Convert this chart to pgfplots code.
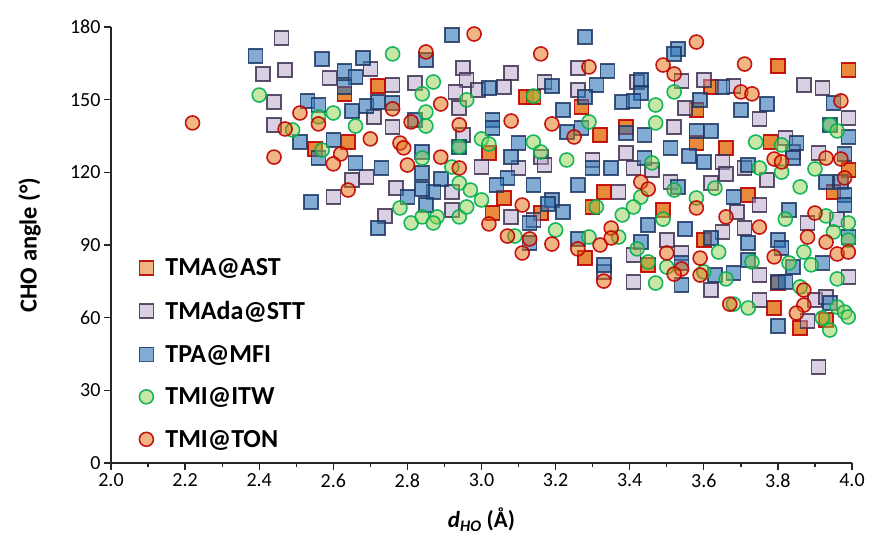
\documentclass[border=0pt]{standalone}
\usepackage{pgfplots}
\pgfplotsset{compat=1.18}
\usepackage{fontspec}
\setmainfont{Carlito}

\definecolor{orfill}{HTML}{E46C0A}
\definecolor{redge}{HTML}{C00000}
\definecolor{lvfill}{HTML}{B3A2C7}
\definecolor{lvedge}{HTML}{3F3151}
\definecolor{blfill}{HTML}{2E75B6}
\definecolor{bledge}{HTML}{1F3864}
\definecolor{grfill}{HTML}{92D050}
\definecolor{gredge}{HTML}{00B050}
\definecolor{axcol}{HTML}{262626}

\pgfplotsset{
  tma/.style={only marks, mark=square*, mark size=7pt,
    mark options={fill=orfill, fill opacity=0.8, draw=redge, draw opacity=0.9, line width=1.6pt},
    legend image post style={every mark/.append style={fill opacity=0.5}}},
  stt/.style={only marks, mark=square*, mark size=7pt,
    mark options={fill=lvfill, fill opacity=0.5, draw=lvedge, draw opacity=0.85, line width=1.6pt}},
  mfi/.style={only marks, mark=square*, mark size=7pt,
    mark options={fill=blfill, fill opacity=0.6, draw=bledge, draw opacity=0.85, line width=1.6pt}},
  itw/.style={only marks, mark=*, mark size=7pt,
    mark options={fill=grfill, fill opacity=0.5, draw=gredge, draw opacity=0.9, line width=1.6pt}},
  ton/.style={only marks, mark=*, mark size=7pt,
    mark options={fill=orfill, fill opacity=0.5, draw=redge, draw opacity=0.9, line width=1.6pt}},
}

\begin{document}
\begin{tikzpicture}
\begin{axis}[
  name=main,
  scale only axis, width=741pt, height=436pt,
  xmin=2, xmax=4, ymin=0, ymax=180,
  clip=false,
  axis lines=left,
  axis line style={-, line width=1.3pt, axcol},
  xtick={2.0,2.2,2.4,2.6,2.8,3.0,3.2,3.4,3.6,3.8,4.0},
  minor x tick num=1,
  ytick={0,30,60,90,120,150,180},
  tick align=outside, major tick length=7pt, minor tick length=4pt,
  every tick/.style={line width=1.3pt, axcol},
  /pgf/number format/assume math mode=true,
  xticklabel style={/pgf/number format/fixed, /pgf/number format/fixed zerofill, /pgf/number format/precision=1},
  ticklabel style={font=\fontsize{20}{24}\selectfont, text=black},
  xlabel={\textbf{\textit{d}\textsubscript{\textit{HO}} (Å)}},
  ylabel={\textbf{CHO angle (°)}},
  every axis x label/.style={at={(axis description cs:0.5,-0.13)}, anchor=center, font=\fontsize{23}{27}\selectfont},
  every axis y label/.style={at={(axis description cs:-0.11,0.5)}, rotate=90, anchor=center, font=\fontsize{24.5}{28}\selectfont},
  legend cell align=left,
  legend style={draw=none, fill=none, at={(0.034,0.478)}, anchor=north west,
    font=\bfseries\fontsize{26}{30}\selectfont, row sep=20pt, column sep=10pt},
]
\addplot[tma] coordinates {
(2.63,152.4)(2.72,155.7)(2.64,132.5)(2.55,129.6)(3.02,128.0)(3.12,151.1)(3.14,151.1)(3.06,109.4)
(3.27,147.0)(3.39,138.7)(3.32,135.4)(3.58,132.1)(3.66,130.1)(3.62,155.2)(3.58,145.7)(3.80,163.9)
(3.99,162.3)(3.78,132.5)(3.72,110.7)(3.33,111.9)(3.95,111.9)(3.03,103.2)(3.16,103.2)(3.28,84.6)
(3.45,81.8)(3.60,92.1)(3.79,64.0)(3.86,55.7)(3.93,59.0)(3.80,74.3)(3.49,104.5)(3.30,105.7)(3.99,121.0)
};
\addlegendentry{TMA@AST}
\addplot[stt] coordinates {
(2.46,175.5)(2.41,160.6)(2.47,162.3)(2.59,159.0)(2.70,162.7)(2.76,156.1)(2.82,156.9)(2.95,163.1)
(2.96,158.1)(2.93,153.2)(2.99,154.0)(3.08,161.0)(3.06,155.2)(2.44,149.0)(2.44,139.6)(2.71,142.9)
(2.76,138.7)(2.95,135.4)(2.94,146.6)(3.00,122.2)(3.10,121.8)(2.69,118.1)(2.65,116.8)(2.77,113.5)
(2.60,109.8)(2.92,111.9)(3.16,126.3)(3.17,157.3)(3.26,163.1)(3.26,154.0)(3.42,157.3)(3.54,157.7)
(3.60,158.1)(3.68,155.7)(3.87,156.1)(3.92,154.8)(3.55,146.6)(3.52,138.7)(3.75,142.0)(3.39,128.0)
(3.30,125.1)(3.17,123.0)(3.41,121.8)(3.46,121.0)(3.65,124.3)(3.66,119.3)(3.77,116.8)(3.91,128.0)
(3.51,116.0)(3.62,115.6)(3.37,111.9)(3.71,121.8)(3.99,142.4)(3.75,106.5)(3.82,134.2)(2.74,102.0)
(3.08,101.6)(3.14,100.3)(3.41,85.9)(3.50,92.1)(3.54,86.7)(3.65,95.4)(3.69,103.6)(3.71,97.0)
(3.75,77.6)(3.62,71.4)(3.41,74.7)(3.88,99.1)(3.99,76.8)(3.75,67.3)(3.88,58.6)(3.90,67.3)
(3.93,68.5)(3.91,39.6)(3.33,78.9)(2.92,104.5)(3.96,100.5)(3.84,128.5)
};
\addlegendentry{TMAda@STT}
\addplot[mfi] coordinates {
(2.39,168.0)(2.57,166.8)(2.68,167.2)(2.63,161.9)(2.66,159.4)(2.53,149.5)(2.56,147.8)(2.65,145.3)
(2.69,147.4)(2.72,149.0)(2.76,148.6)(2.63,155.2)(2.60,133.4)(2.51,132.5)(2.56,125.9)(2.66,123.9)
(2.73,121.8)(2.82,141.6)(2.84,128.4)(2.84,119.7)(2.89,117.3)(2.87,111.9)(2.84,113.1)(2.80,109.8)
(2.54,107.8)(2.92,176.7)(2.85,166.4)(3.03,141.6)(3.03,138.3)(3.02,154.8)(3.08,126.3)(3.07,117.7)
(3.04,114.8)(3.14,114.8)(3.10,132.1)(2.94,130.5)
(3.28,175.9)(3.53,170.9)(3.52,168.9)(3.34,161.8)(3.31,156.1)(3.28,151.1)(3.19,155.7)(3.43,158.1)
(3.43,152.8)(3.38,149.0)(3.41,149.5)(3.22,145.7)(3.59,149.9)(3.70,145.7)(3.77,148.2)(3.62,137.1)
(3.58,137.1)(3.65,155.2)(3.51,130.1)(3.56,126.8)(3.60,124.3)(3.39,136.3)(3.44,135.4)(3.23,136.7)
(3.27,138.3)(3.35,121.8)(3.44,125.9)(3.30,121.8)(3.26,114.8)(3.19,108.6)(3.53,114.0)(3.68,109.8)
(3.72,123.0)(3.85,132.1)(3.84,125.9)(3.93,116.0)(3.97,116.0)(3.98,110.7)(3.94,139.6)(3.99,134.6)
(3.95,148.6)(3.98,127.5)
(2.72,97.0)(2.85,106.5)(3.13,99.1)(3.13,90.8)
(3.22,103.6)(3.26,92.5)(3.33,81.8)(3.43,91.2)(3.54,82.6)(3.45,98.3)(3.55,96.6)(3.62,92.9)
(3.68,78.4)(3.72,90.8)(3.72,83.8)(3.80,92.1)(3.81,88.8)(3.83,104.5)(3.84,80.9)(3.80,74.7)
(3.82,74.7)(3.92,82.6)(3.99,93.3)(3.98,106.5)(3.94,66.1)(3.80,56.6)(3.63,77.6)(3.54,73.5)(3.18,106.9)
};
\addlegendentry{TPA@MFI}
\addplot[itw] coordinates {
(2.40,151.9)(2.76,168.9)(2.87,157.3)(2.84,152.4)(2.96,149.9)(2.56,142.9)(2.60,144.5)(2.66,139.1)
(2.49,137.5)(2.57,129.2)(2.85,144.9)(2.85,139.1)(2.84,125.9)(2.92,122.2)(2.94,130.5)(3.00,133.8)
(3.02,131.7)(2.94,115.6)(2.97,112.7)(3.00,108.6)(3.14,132.5)(3.16,128.4)(2.78,105.3)(3.14,151.5)
(3.52,153.2)(3.47,147.8)(3.47,140.4)(3.29,140.8)(3.23,125.1)(3.46,123.9)(3.74,132.5)(3.81,131.3)
(3.75,121.8)(3.81,120.1)(3.90,121.4)(3.94,139.6)(3.96,137.1)(3.86,114.0)(3.63,113.5)(3.52,112.7)
(3.58,109.4)(3.43,109.8)
(2.81,99.1)(2.84,101.6)(2.88,101.6)(2.87,99.1)(2.94,101.6)(2.96,105.7)(3.09,93.7)
(3.20,96.2)(3.29,93.3)(3.31,105.7)(3.38,102.4)(3.41,105.7)(3.49,100.7)(3.42,88.4)(3.37,93.3)
(3.45,83.0)(3.50,80.9)(3.47,74.3)(3.60,78.9)(3.64,87.1)(3.66,76.0)(3.73,83.0)(3.82,100.7)
(3.83,82.6)(3.87,87.1)(3.89,81.8)(3.86,72.7)(3.68,65.6)(3.72,64.0)(3.93,102.0)(3.95,95.4)
(3.96,76.0)(3.96,64.4)(3.98,62.3)(3.92,59.9)(3.94,54.9)(3.99,60.3)(3.99,99.1)(3.99,92.0)
};
\addlegendentry{TMI@ITW}
\addplot[ton] coordinates {
(2.22,140.4)(2.98,177.1)(2.85,169.7)(3.16,168.9)(2.51,144.5)(2.56,140.0)(2.47,137.9)(2.76,146.2)
(2.81,140.8)(2.89,148.2)(2.94,139.6)(2.70,133.8)(2.78,132.1)(2.79,130.1)(2.62,127.6)(2.60,123.5)
(2.44,126.3)(2.80,123.0)(2.89,126.3)(2.94,121.8)(3.08,141.2)(2.64,112.7)(3.11,106.5)
(3.58,173.8)(3.29,163.5)(3.49,164.3)(3.52,160.6)(3.71,164.7)(3.70,153.2)(3.73,152.4)(3.97,149.5)
(3.19,140.0)(3.25,134.6)(3.79,125.5)(3.81,124.3)(3.93,125.9)(3.97,125.5)(3.98,117.7)(3.43,116.0)
(3.45,113.1)
(3.02,98.7)(3.07,93.7)(3.13,92.5)(3.11,86.7)
(3.19,90.4)(3.26,88.4)(3.32,90.0)(3.35,97.0)(3.35,92.9)(3.33,75.1)(3.58,105.3)(3.66,101.6)
(3.50,86.7)(3.54,80.1)(3.52,78.0)(3.59,84.6)(3.59,77.6)(3.75,97.4)(3.79,85.1)(3.88,93.3)
(3.93,91.2)(3.96,86.3)(3.90,103.2)(3.87,71.4)(3.87,65.2)(3.85,61.9)(3.67,65.6)(3.99,87.1)
};
\addlegendentry{TMI@TON}
\end{axis}
\path (main.south west) ++(-111pt,-85pt) rectangle ++(869pt,548pt);
\end{tikzpicture}
\end{document}
